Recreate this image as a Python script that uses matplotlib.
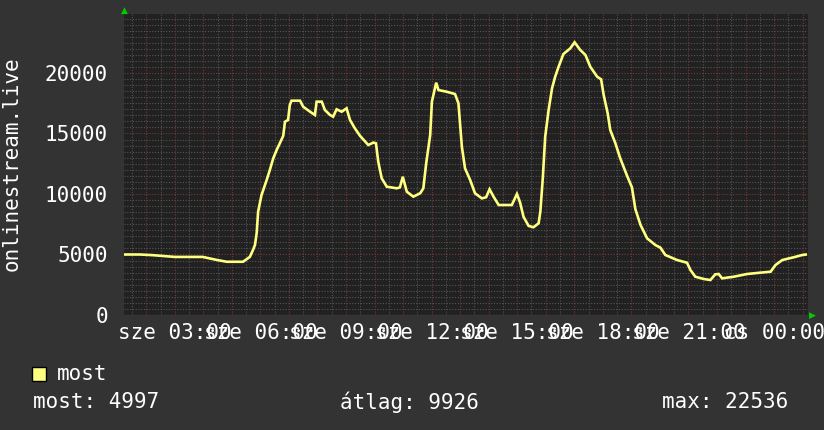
import matplotlib
matplotlib.use("Agg")
import matplotlib.pyplot as plt
from matplotlib.patches import Rectangle

# hours since sze 00:00 and viewer counts
hours = [1.21, 1.77, 2.20, 3.00, 3.88, 3.98, 4.47, 4.82, 5.39, 5.63, 5.74, 5.81,
         5.87, 5.92, 6.04, 6.10, 6.22, 6.33, 6.45, 6.57, 6.68, 6.80, 6.86, 6.97,
         7.03, 7.09, 7.39, 7.50, 7.74, 7.91, 7.97, 8.15, 8.26, 8.44, 8.55, 8.67,
         8.85, 9.02, 9.14, 9.31, 9.49, 9.78, 9.96, 10.05, 10.13, 10.25, 10.43,
         10.78, 10.89, 10.99, 11.13, 11.36, 11.60, 11.71, 11.81, 11.95, 12.01,
         12.16, 12.24, 12.53, 12.82, 12.94, 13.06, 13.17, 13.35, 13.52, 13.76,
         13.91, 14.03, 14.17, 14.35, 14.81, 14.99, 15.10, 15.22, 15.40, 15.57,
         15.75, 15.81, 15.90, 15.98, 16.10, 16.22, 16.33, 16.45, 16.62, 16.86,
         17.01, 17.21, 17.39, 17.56, 17.80, 17.94, 18.03, 18.17, 18.26, 18.44,
         18.61, 18.85, 19.02, 19.14, 19.32, 19.55, 19.84, 20.02, 20.19, 20.60,
         20.95, 21.07, 21.24, 21.54, 21.77, 21.94, 22.06, 22.18, 22.59, 23.06,
         23.53, 23.88, 24.05, 24.29, 24.69, 24.99, 25.11]
viewers = [5000, 5000, 4950, 4800, 4800, 4800, 4550, 4400, 4400, 4800, 5370, 5790,
           6780, 8540, 9920, 10330, 11160, 11980, 12950, 13640, 14190, 14810, 15970, 16120,
           17350, 17710, 17710, 17210, 16800, 16530, 17630, 17630, 16940, 16530, 16390, 17000,
           16800, 17080, 16115, 15430, 14810, 14050, 14250, 14190, 12670, 11300, 10600,
           10470, 10550, 11430, 10190, 9780, 10060, 10470, 12540, 14875, 17630,
           19200, 18590, 18450, 18260, 17500, 13910, 12120, 11160, 10060, 9640,
           9730, 10390, 9780, 9090, 9090, 10000, 9300, 8120, 7360, 7250,
           7580, 8540, 11430, 14735, 16940, 18735, 19694, 20520, 21570, 22040,
           22536, 21900, 21490, 20520, 19694, 19478, 18180, 16670, 15290, 14190,
           12950, 11500, 10550, 8750, 7450, 6340, 5785, 5560, 4960, 4545,
           4320, 3720, 3165, 2975, 2890, 3360, 3390, 3030, 3165, 3390,
           3500, 3580, 4130, 4545, 4770, 4960, 4997]

tick_hours = [3, 6, 9, 12, 15, 18, 21, 24]
tick_labels = ["sze 03:00", "sze 06:00", "sze 09:00", "sze 12:00",
               "sze 15:00", "sze 18:00", "sze 21:00", "cs 00:00"]
y_ticks = [0, 5000, 10000, 15000, 20000]

series_name = "most"
stat_labels = ["most: 4997", "átlag: 9926", "max: 22536"]

W, H = 824, 430
bg = "#333333"
plot_bg = "#212121"
line_col = "#ffff80"
minor_col = "#555555"
major_col = "#7a3838"
mono = "DejaVu Sans Mono"

fig = plt.figure(figsize=(W / 100, H / 100), dpi=100, facecolor=bg)
ax = fig.add_axes([124 / W, (H - 315) / H, 684 / W, 301 / H])
ax.set_facecolor(plot_bg)

ax.plot(hours, viewers, color=line_col, lw=1.9, solid_joinstyle="miter", zorder=3)

ax.set_xlim(1.22, 25.19)
ax.set_ylim(0, 24875)

# minor grid every 30 min / 500, major every hour / 5000
dots = (0, (1, 1.5))
for k in range(3, 51, 2):
    ax.axvline(k / 2, color=minor_col, lw=0.8, ls=dots, zorder=0)
for h in range(2, 26):
    ax.axvline(h, color=major_col, lw=0.8, ls=dots, zorder=1)
for v in range(500, 25000, 500):
    if v % 5000 == 0:
        ax.axhline(v, color=major_col, lw=0.8, ls=dots, zorder=1)
    else:
        ax.axhline(v, color=minor_col, lw=0.8, ls=dots, zorder=0)

ax.set_xticks(tick_hours)
ax.set_xticklabels(tick_labels)
ax.set_yticks(y_ticks)
ax.set_yticklabels([str(v) for v in y_ticks])
ax.tick_params(axis="both", length=0, colors="white", labelsize=15)
ax.tick_params(axis="x", pad=6)
ax.tick_params(axis="y", pad=11.5)
for lab in ax.get_xticklabels() + ax.get_yticklabels():
    lab.set_fontfamily(mono)
for sp in ax.spines.values():
    sp.set_visible(False)
ax.axhline(0, color="#444444", lw=1, zorder=2)

fig.text(12 / W, 1 - 164 / H, "onlinestream.live", rotation=90, color="white",
         fontsize=15, family=mono, ha="center", va="center")

# green arrows
fig.text(124 / W, 1 - 10 / H, "▲", color="#00cc00", fontsize=6.5, ha="center",
         va="center", family="DejaVu Sans")
fig.text(812 / W, 1 - 315 / H, "▶", color="#00cc00", fontsize=6.5, ha="center",
         va="center", family="DejaVu Sans")

# legend and stats
fig.patches.append(Rectangle((32 / W, 1 - 381 / H), 14 / W, 14 / H,
                             transform=fig.transFigure, facecolor=line_col,
                             edgecolor="black", lw=1))
fig.text(57 / W, 1 - 374 / H, series_name, color="white", fontsize=15,
         family=mono, va="center")
fig.text(33 / W, 1 - 402 / H, stat_labels[0], color="white", fontsize=15,
         family=mono, va="center")
fig.text(340 / W, 1 - 402 / H, stat_labels[1], color="white", fontsize=15,
         family=mono, va="center")
fig.text(662 / W, 1 - 402 / H, stat_labels[2], color="white", fontsize=15,
         family=mono, va="center")

fig.savefig("out.png", dpi=100, facecolor=bg)
